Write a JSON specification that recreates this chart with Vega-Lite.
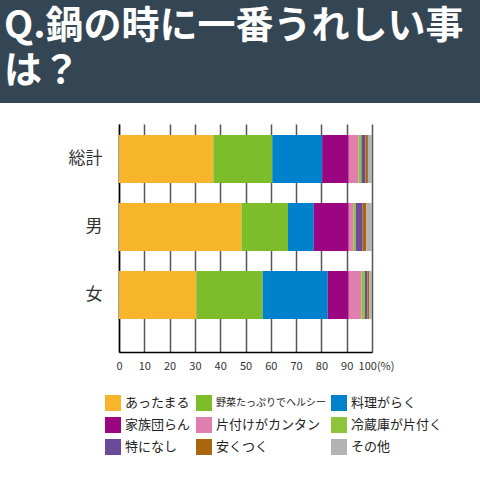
{
  "$schema": "https://vega.github.io/schema/vega-lite/v6.json",
  "padding": 0,
  "background": "white",
  "spacing": 21,
  "align": "none",
  "config": {
    "font": "Noto Sans CJK JP",
    "view": {"stroke": null}
  },
  "vconcat": [
    {
      "width": 480,
      "height": 103,
      "view": {"fill": "#344553", "stroke": null},
      "data": {"values": [{"line1": "Q.鍋の時に一番うれしい事", "line2": "は？"}]},
      "layer": [
        {
          "mark": {"type": "text", "align": "left", "baseline": "top", "fontSize": 38, "fontWeight": "bold", "color": "white", "dx": 4, "dy": 8},
          "encoding": {"x": {"value": 0}, "y": {"value": 0}, "text": {"field": "line1"}}
        },
        {
          "mark": {"type": "text", "align": "left", "baseline": "top", "fontSize": 38, "fontWeight": "bold", "color": "white", "dx": 4, "dy": 53},
          "encoding": {"x": {"value": 0}, "y": {"value": 0}, "text": {"field": "line2"}}
        }
      ]
    },
    {
      "spacing": 0,
      "hconcat": [
        {
          "width": 68,
          "height": 228,
          "data": {"values": []},
          "mark": {"type": "point"},
          "encoding": {}
        },
        {
          "width": 253,
          "height": 228,
          "data": {
            "values": [
              {"group": "総計", "answer": "あったまる", "idx": 1, "pct": 37.3},
              {"group": "総計", "answer": "野菜たっぷりでヘルシー", "idx": 2, "pct": 23.3},
              {"group": "総計", "answer": "料理がらく", "idx": 3, "pct": 19.7},
              {"group": "総計", "answer": "家族団らん", "idx": 4, "pct": 10.5},
              {"group": "総計", "answer": "片付けがカンタン", "idx": 5, "pct": 3.8},
              {"group": "総計", "answer": "冷蔵庫が片付く", "idx": 6, "pct": 1.2},
              {"group": "総計", "answer": "特になし", "idx": 7, "pct": 1.6},
              {"group": "総計", "answer": "安くつく", "idx": 8, "pct": 1.0},
              {"group": "総計", "answer": "その他", "idx": 9, "pct": 1.6},
              {"group": "男", "answer": "あったまる", "idx": 1, "pct": 48.4},
              {"group": "男", "answer": "野菜たっぷりでヘルシー", "idx": 2, "pct": 18.4},
              {"group": "男", "answer": "料理がらく", "idx": 3, "pct": 10.2},
              {"group": "男", "answer": "家族団らん", "idx": 4, "pct": 13.8},
              {"group": "男", "answer": "片付けがカンタン", "idx": 5, "pct": 1.8},
              {"group": "男", "answer": "冷蔵庫が片付く", "idx": 6, "pct": 1.0},
              {"group": "男", "answer": "特になし", "idx": 7, "pct": 2.7},
              {"group": "男", "answer": "安くつく", "idx": 8, "pct": 1.5},
              {"group": "男", "answer": "その他", "idx": 9, "pct": 2.2},
              {"group": "女", "answer": "あったまる", "idx": 1, "pct": 30.6},
              {"group": "女", "answer": "野菜たっぷりでヘルシー", "idx": 2, "pct": 26.2},
              {"group": "女", "answer": "料理がらく", "idx": 3, "pct": 25.7},
              {"group": "女", "answer": "家族団らん", "idx": 4, "pct": 8.3},
              {"group": "女", "answer": "片付けがカンタン", "idx": 5, "pct": 5.0},
              {"group": "女", "answer": "冷蔵庫が片付く", "idx": 6, "pct": 1.4},
              {"group": "女", "answer": "特になし", "idx": 7, "pct": 1.0},
              {"group": "女", "answer": "安くつく", "idx": 8, "pct": 0.7},
              {"group": "女", "answer": "その他", "idx": 9, "pct": 1.1}
            ]
          },
          "mark": {"type": "bar"},
          "encoding": {
            "y": {
              "field": "group",
              "type": "nominal",
              "sort": ["総計", "男", "女"],
              "scale": {"paddingInner": 0.294, "paddingOuter": 0.3235, "align": 0.25},
              "axis": {
                "title": null,
                "ticks": false,
                "domainColor": "black",
                "domainWidth": 1.5,
                "labelFontSize": 17,
                "labelColor": "#333",
                "labelPadding": 17
              }
            },
            "x": {
              "field": "pct",
              "type": "quantitative",
              "stack": "zero",
              "scale": {"domain": [0, 100], "nice": false},
              "axis": {
                "title": null,
                "values": [0, 10, 20, 30, 40, 50, 60, 70, 80, 90, 100],
                "labelExpr": "datum.value == 100 ? '100(%)' : datum.label",
                "labelOverlap": false,
                "labelFlush": false,
                "labelOffset": {"condition": {"test": "datum.value == 100", "value": 4}, "value": 0},
                "grid": true,
                "gridColor": "#555",
                "gridWidth": 1.5,
                "ticks": false,
                "domainColor": "black",
                "domainWidth": 1.5,
                "labelFontSize": 11,
                "labelColor": "#333",
                "labelPadding": 8
              }
            },
            "order": {"field": "idx", "type": "quantitative"},
            "color": {
              "field": "answer",
              "type": "nominal",
              "scale": {
                "domain": ["あったまる", "野菜たっぷりでヘルシー", "料理がらく", "家族団らん", "片付けがカンタン", "冷蔵庫が片付く", "特になし", "安くつく", "その他"],
                "range": ["#f7b52c", "#7dbc2a", "#0081cc", "#9c0582", "#e07eb0", "#8dc43a", "#6b4a9a", "#a8670f", "#b3b3b3"]
              },
              "legend": {
                "title": null,
                "orient": "none",
                "direction": "horizontal",
                "legendX": 105,
                "legendY": 395,
                "columns": 3,
                "padding": 0,
                "symbolType": "square",
                "symbolSize": 256,
                "symbolStrokeWidth": 0,
                "labelFontSize": 13,
                "labelColor": "#222",
                "labelOffset": 4,
                "rowPadding": 6,
                "columnPadding": 5,
                "labelLimit": 200,
                "encode": {
                  "labels": {
                    "update": {
                      "fontSize": {"signal": "datum.label === '野菜たっぷりでヘルシー' ? 10 : 13"}
                    }
                  }
                }
              }
            }
          }
        }
      ]
    }
  ]
}
